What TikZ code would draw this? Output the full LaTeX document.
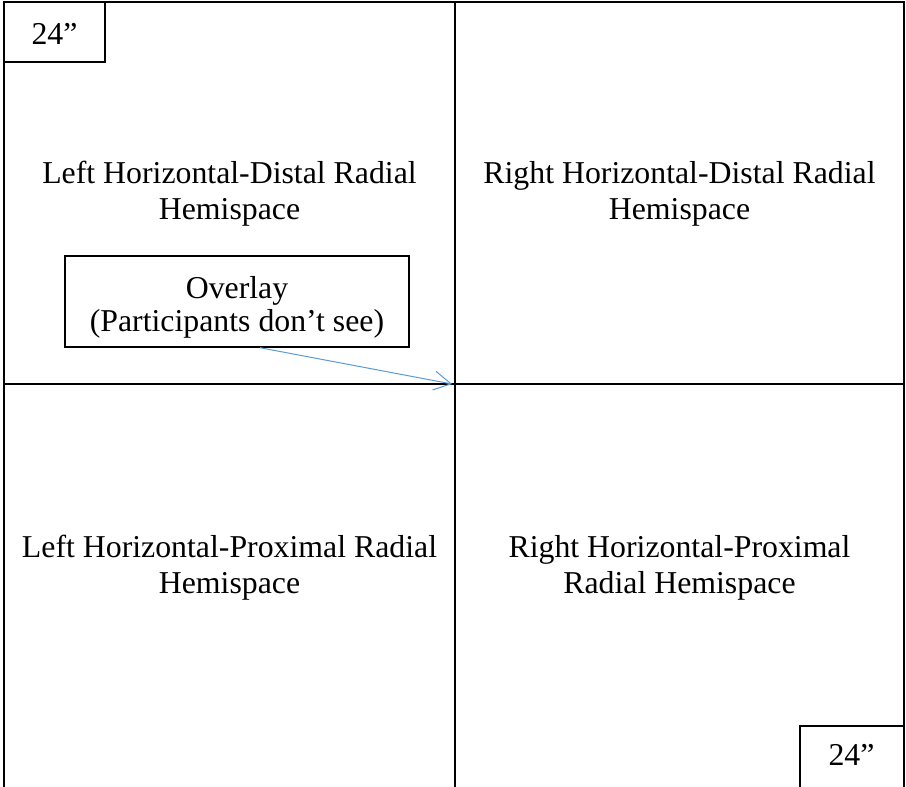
\documentclass[tikz,border=0pt]{standalone}
\usepackage{fontspec}
\setmainfont{Liberation Serif}
\usetikzlibrary{arrows.meta}
\definecolor{arrowblue}{HTML}{5B9BD5}
\begin{document}
\begin{tikzpicture}[x=1pt,y=-1pt,
  gridline/.style={line width=1.8pt, line join=miter},
  quadlbl/.style={font=\fontsize{31.8}{36}\selectfont, align=center, inner sep=0pt, anchor=base},
  ovlbl/.style={font=\fontsize{31.8}{33.7}\selectfont, align=center, inner sep=0pt, anchor=base},
  dimbox/.style={draw, line width=1.8pt, inner sep=0pt, font=\fontsize{31.8}{36}\selectfont},
  ovbox/.style={draw, line width=1.4pt, inner sep=0pt},
  pointer/.style={draw=arrowblue, line width=1pt, -{Straight Barb[length=17pt,width=19pt]}}]
\useasboundingbox (0,0) rectangle (906,787);
% grid
\draw[gridline] (4,787) -- (4,2) -- (904,2) -- (904,787);
\draw[gridline] (455,2) -- (455,787);
\draw[gridline] (4,384) -- (904,384);
\coordinate (ctr) at (452,384);
% quadrant labels (anchor = baseline of last line)
\node[quadlbl] (tl) at (229.5,219) {Left Horizontal-Distal Radial\\Hemispace};
\node[quadlbl] (tr) at (679.5,219) {Right Horizontal-Distal Radial\\Hemispace};
\node[quadlbl] (bl) at (229.5,593) {Left Horizontal-Proximal Radial\\Hemispace};
\node[quadlbl] (br) at (679.5,593) {Right Horizontal-Proximal\\Radial Hemispace};
% dimension boxes
\node[dimbox, minimum width=101pt, minimum height=60pt, text height=25.5pt, text depth=0pt] (dimtl) at (54.5,32) {24”};
\draw[line width=1.8pt, line join=miter] (800,787) -- (800,726) -- (904,726);
\node[font=\fontsize{31.8}{36}\selectfont, inner sep=0pt] (dimbr) at (851.5,755) {24”};
% overlay
\node[ovbox, minimum width=344pt, minimum height=91pt] (ov) at (237,301.5) {};
\node[ovlbl] (ovtext) at (237,331.7) {Overlay\\(Participants don’t see)};
\draw[pointer] ([xshift=23pt]ov.south) -- (ctr);
\end{tikzpicture}
\end{document}
